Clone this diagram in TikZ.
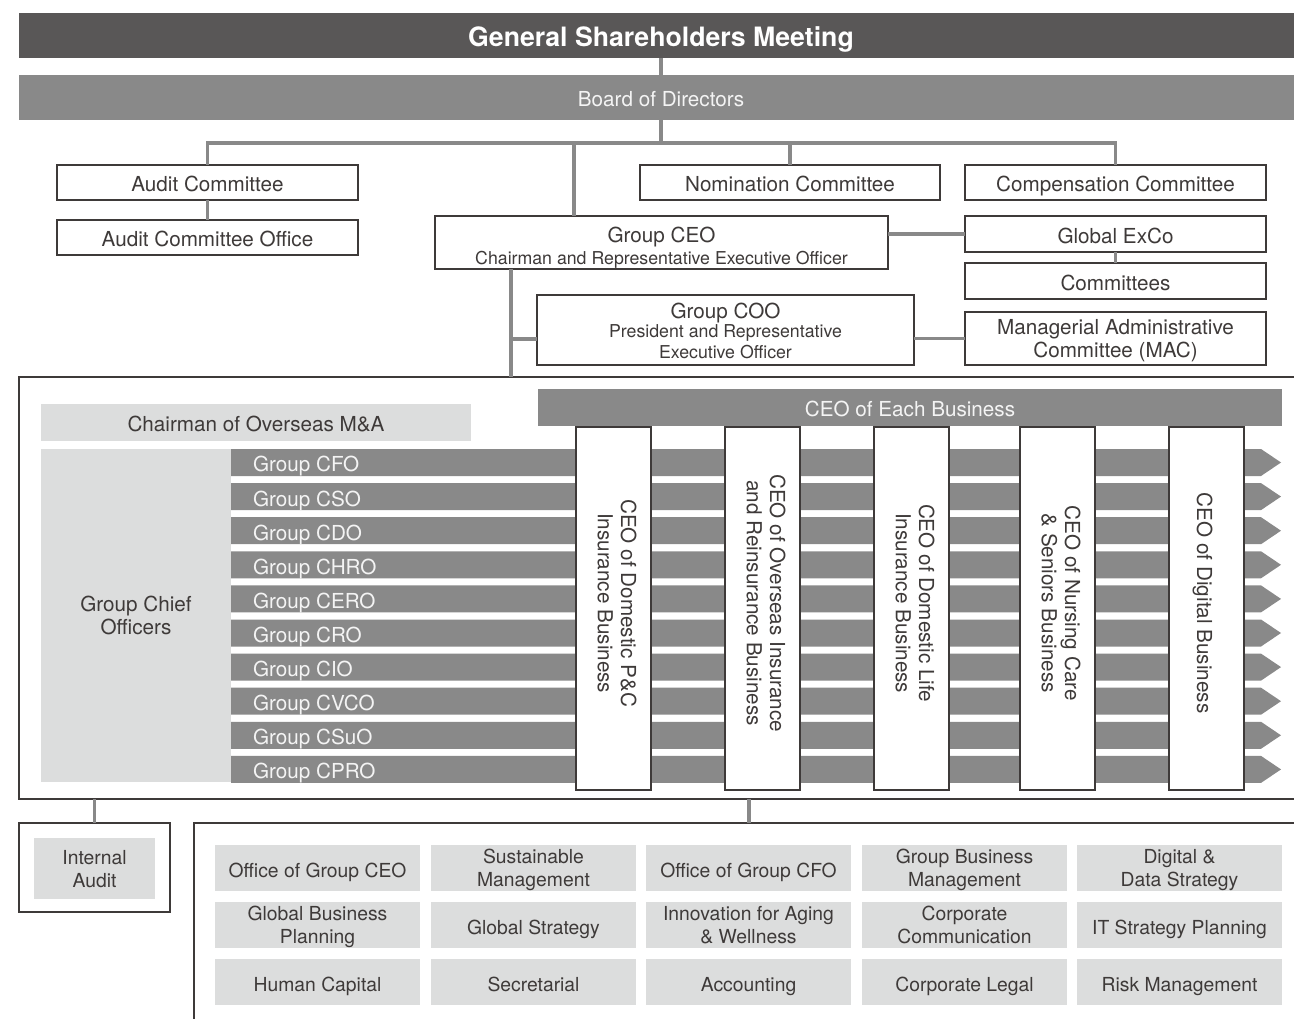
\documentclass[tikz,border=0pt]{standalone}
\usepackage{fontspec}
\setmainfont{TeX Gyre Heros}
\definecolor{dk}{HTML}{595757}
\definecolor{mg}{HTML}{898989}
\definecolor{lg}{HTML}{DCDDDD}
\definecolor{bc}{HTML}{3E3A39}
\definecolor{tc}{HTML}{3E3A39}
\definecolor{wt}{HTML}{F4F4F4}
\newcommand\mainf{\fontsize{15.5}{17.5}\selectfont}
\newcommand\gridf{\fontsize{14.5}{17.3}\selectfont}
\newcommand\smallf{\fontsize{13.3}{15.7}\selectfont}
\newcommand\bigf{\bfseries\fontsize{20}{24}\selectfont}
\newcommand\bstrut{\rule{0pt}{19.6pt}}
\newcommand\mstrut{\rule{0pt}{16.6pt}}
\newcommand\estrut{\rule[-5.5pt]{0pt}{5.5pt}}
% box node (shape only) + its text node at the centre
\newcommand\obox[7]{\node[#6, minimum width={(#4-(#2))*0.75pt}, minimum height={(#5-(#3))*0.75pt}] (#1) at ({(#2+#4)/2},{(#3+#5)/2}) {};
  \node[#6, draw=none, fill=none] (#1-t) at (#1.center) {\bstrut#7\estrut};}
\newcommand\mobox[7]{\node[#6, minimum width={(#4-(#2))*0.75pt}, minimum height={(#5-(#3))*0.75pt}] (#1) at ({(#2+#4)/2},{(#3+#5)/2}) {};
  \node[#6, draw=none, fill=none] (#1-t) at (#1.center) {\mstrut#7\estrut};}
\begin{document}
\begin{tikzpicture}[x=0.75pt,y=-0.75pt,
  every node/.style={inner sep=0pt, outer sep=0pt, align=center, font=\mainf, text=tc,
    execute at begin node=\bstrut, execute at end node=\estrut},
  box/.style={draw=bc, line width=1pt, fill=white},
  lbox/.style={fill=lg},
  gbox/.style={fill=lg, font=\gridf},
  dbar/.style={fill=mg, text=wt},
  conn/.style={draw=mg, line width=2.3pt},
  vtext/.style={rotate=-90, font=\mainf, text=tc}]
\useasboundingbox (0,0) rectangle (1294,1019);
\clip (0,0) rectangle (1294,1019);
\fill[white] (0,0) rectangle (1294,1019);

% top bars
\obox{gsm}{19}{13}{1303}{58}{fill=dk, text=white, font=\bigf}{\rule{0pt}{22pt}General Shareholders Meeting}
\obox{board}{19}{75}{1303}{120}{dbar}{Board of Directors}

% committees
\obox{ac}{57}{165}{358}{200}{box}{Audit Committee}
\obox{aco}{57}{220}{358}{255}{box}{Audit Committee Office}
\obox{nom}{640}{165}{940}{200}{box}{Nomination Committee}
\obox{comp}{965}{165}{1266}{200}{box}{Compensation Committee}
\mobox{ceo}{435}{216}{888}{269}{box}{\rule{0pt}{21.7pt}Group CEO\\[-1pt]\smallf Chairman and Representative Executive Officer}
\obox{exco}{965}{216}{1266}{252}{box}{Global ExCo}
\obox{com}{965}{263}{1266}{299}{box}{Committees}
\mobox{coo}{537}{295}{914}{365}{box}{\rule{0pt}{18.3pt}Group COO\\[-3pt]\smallf President and Representative\\[-1.5pt]\smallf Executive Officer}
\mobox{mac}{965}{312}{1266}{365}{box}{Managerial Administrative\\Committee (MAC)}

% big executive box
\obox{big}{19}{377}{1312}{799}{draw=bc, line width=1pt}{}
\obox{cma}{41}{404}{471}{441}{lbox}{Chairman of Overseas M\&A}
\mobox{gco}{41}{449}{231}{782}{lbox}{Group Chief\\Officers}

\foreach \i/\t in {0/CFO,1/CSO,2/CDO,3/CHRO,4/CERO,5/CRO,6/CIO,7/CVCO,8/CSuO,9/CPRO}{
  \pgfmathsetmacro\ya{449+34.1*\i}
  \pgfmathsetmacro\ym{\ya+13.5}
  \pgfmathsetmacro\yb{\ya+27}
  \fill[mg] (231,\ya) -- (1261,\ya) -- (1281,\ym) -- (1261,\yb) -- (231,\yb) -- cycle;
  \node[anchor=west, text=wt] (row\i) at (253,\ym) {Group \t};
}

\obox{each}{538}{389}{1282}{426}{dbar}{CEO of Each Business}
\foreach \n/\x/\t in {1/576/{CEO of Domestic P\&C\\Insurance Business},
                      2/725/{CEO of Overseas Insurance\\and Reinsurance Business},
                      3/874/{CEO of Domestic Life\\Insurance Business},
                      4/1020/{CEO of Nursing Care\\\& Seniors Business},
                      5/1169/{CEO of Digital Business}}{
  \pgfmathsetmacro\xb{\x+75}
  \node[box, minimum width=75*0.75pt, minimum height=363*0.75pt] (v\n) at ({(\x+\xb)/2},608.5) {};
  \node[vtext] (vt\n) at ([yshift=4pt]v\n.center) {\t};
}

% bottom
\obox{ia}{19}{823}{170}{912}{box}{}
\mobox{iai}{34}{838}{155}{899}{gbox}{Internal\\Audit}
\obox{bb}{194}{823}{1312}{1040}{box}{}

\obox{g00}{215}{845}{420}{891}{gbox}{Office of Group CEO}
\mobox{g01}{431}{845}{636}{891}{gbox}{Sustainable\\Management}
\obox{g02}{646}{845}{851}{891}{gbox}{Office of Group CFO}
\mobox{g03}{862}{845}{1067}{891}{gbox}{Group Business\\Management}
\mobox{g04}{1077}{845}{1282}{891}{gbox}{Digital \&\\Data Strategy}
\mobox{g10}{215}{902}{420}{948}{gbox}{Global Business\\Planning}
\obox{g11}{431}{902}{636}{948}{gbox}{Global Strategy}
\mobox{g12}{646}{902}{851}{948}{gbox}{Innovation for Aging\\\& Wellness}
\mobox{g13}{862}{902}{1067}{948}{gbox}{Corporate\\Communication}
\obox{g14}{1077}{902}{1282}{948}{gbox}{IT Strategy Planning}
\obox{g20}{215}{959}{420}{1005}{gbox}{Human Capital}
\obox{g21}{431}{959}{636}{1005}{gbox}{Secretarial}
\obox{g22}{646}{959}{851}{1005}{gbox}{Accounting}
\obox{g23}{862}{959}{1067}{1005}{gbox}{Corporate Legal}
\obox{g24}{1077}{959}{1282}{1005}{gbox}{Risk Management}

% connectors
\coordinate (hj) at (661,143);
\coordinate (ceoin) at (574,143);
\coordinate (cd) at (511,0);
\coordinate (cb) at (511,339);
\coordinate (bj) at (749,0);
\draw[conn] (gsm.south) -- (board.north);
\draw[conn] (board.south) -- (hj);
\draw[conn] (ac.north) -- (ac.north |- hj) -- (comp.north |- hj) -- (comp.north);
\draw[conn] (nom.north) -- (nom.north |- hj);
\draw[conn] (ceoin) -- (ceoin |- ceo.north);
\draw[conn] (ac.south) -- (aco.north);
\draw[conn] (exco.west) -- (exco.west -| ceo.east);
\draw[conn] (exco.south) -- (com.north);
\draw[conn] (mac.west) -- (mac.west -| coo.east);
\draw[conn] (cd |- ceo.south) -- (cd |- big.north);
\draw[conn] (cb) -- (cb -| coo.west);
\draw[conn] (ia.north) -- (ia.north |- big.south);
\draw[conn] (bj |- big.south) -- (bj |- bb.north);
\end{tikzpicture}
\end{document}
